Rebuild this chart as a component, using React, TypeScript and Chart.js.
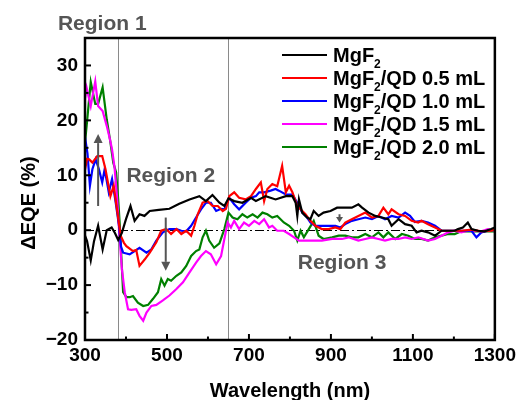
import React, { useEffect, useRef } from "react";
import { Chart, registerables } from "chart.js";

Chart.register(...registerables);

const FONT = "'Liberation Sans', Arial, sans-serif";

// axis ticks
const xTicks = [300, 500, 700, 900, 1100, 1300];
const xMinorTicks = [400, 600, 800, 1000, 1200];
const yTicks = [-20, -10, 0, 10, 20, 30];
const yMinorTicks = [-15, -5, 5, 15, 25];
const regionBounds = [380, 650];

// MgF2
const blackWl = [
  300, 305, 314, 322, 332, 343, 353, 365, 373, 381,
  390, 400, 411, 421, 433, 445, 458, 480, 506, 530,
  555, 579, 595, 611, 628, 640, 650, 664, 684, 705,
  717, 741, 765, 790, 806, 814, 818, 822, 830, 842,
  850, 858, 870, 882, 899, 915, 935, 951, 967, 976,
  992, 1008, 1024, 1040, 1048, 1065, 1081, 1097, 1109, 1121,
  1137, 1154, 1170, 1186, 1202, 1210, 1222, 1234, 1243, 1259,
  1275, 1291, 1300,
];
const blackVal = [
  -1, -2, -5.5, -2, 0.8, -3.5, 0, 0.5, -0.5, -1.8,
  -0.5, 2, 4.4, 1.7, 2.9, 2.6, 3.5, 3.7, 3.9, 4.8,
  5.6, 6.2, 5.3, 6.4, 5.0, 4.4, 5.8, 5.3, 5.0, 5.9,
  5.3, 6.2, 5.6, 6.2, 6.2, 5.0, 2.6, 5.6, 3.2, 2.3,
  2.0, 3.5, 2.6, 3.2, 3.5, 4.1, 4.1, 4.1, 4.7, 4.1,
  3.2, 2.6, 2.3, 2.0, 0.8, 2.0, 1.1, 0.8, -0.4, -0.1,
  -0.4, -1.0, -0.1, -0.1, -0.1, 0.2, 0.5, 1.4, 0.2, -0.1,
  -0.2, 0.2, 0.5,
];

// MgF2/QD 0.5 mL
const redWl = [
  300, 305, 310, 318, 330, 342, 350, 362, 370, 378,
  387, 395, 401, 417, 425, 433, 446, 458, 474, 486,
  498, 510, 523, 535, 547, 559, 567, 575, 587, 599,
  611, 624, 636, 644, 652, 664, 676, 692, 705, 717,
  729, 737, 745, 757, 769, 781, 790, 798, 806, 818,
  826, 838, 850, 862, 878, 894, 911, 923, 935, 951,
  967, 984, 1000, 1016, 1028, 1040, 1048, 1065, 1081, 1097,
  1113, 1121, 1137, 1154, 1170, 1194, 1218, 1243, 1267, 1291,
  1300,
];
const redVal = [
  11, 13, 12.9, 12.3, 13.5, 13.5, 11.1, 6.2, 8.1, 3.8,
  -1.0, -2.3, -2.9, -3.8, -3.6, -6.5, -5.3, -4.1, -2.2, -0.1,
  0.2, -0.7, 0.2, -0.7, -0.1, -1.0, 0.8, 2.9, 5.0, 5.3,
  4.4, 4.4, 3.5, 3.9, 6.2, 6.9, 5.9, 5.6, 6.2, 7.5,
  8.7, 5.3, 7.5, 8.4, 8.0, 11.7, 6.9, 8.1, 6.9, 4.4,
  3.8, 2.9, 1.7, 0.8, 0.2, 0.2, 0.5, 0.2, 1.4, 2.0,
  2.6, 3.2, 2.3, 2.6, 4.1, 2.9, 3.8, 2.9, 2.6, 1.7,
  1.4, 1.7, 1.1, 0.5, -0.1, -0.1, -0.1, 0.1, -0.2, -0.1,
  0.2,
];

// MgF2/QD 1.0 mL
const blueWl = [
  300, 306, 312, 318, 326, 334, 342, 348, 358, 366,
  375, 383, 388, 393, 409, 421, 433, 450, 462, 474,
  490, 506, 523, 535, 547, 559, 571, 583, 595, 607,
  620, 632, 640, 652, 664, 676, 692, 705, 717, 725,
  737, 753, 765, 773, 790, 806, 818, 830, 842, 850,
  862, 878, 894, 911, 923, 935, 951, 967, 984, 1000,
  1016, 1032, 1048, 1065, 1081, 1093, 1105, 1121, 1137, 1154,
  1170, 1194, 1218, 1243, 1255, 1267, 1283, 1300,
];
const blueVal = [
  17, 14, 8.1, 11.1, 12.9, 11.1, 8.7, 11.1, 6.9, 9.3,
  5.0, 0.8, -3, -4.1, -4.4, -3.8, -3.2, -4.1, -3.5, -1.9,
  -0.4, 0.2, 0.2, -0.1, -0.2, 0.8, 2.3, 3.8, 5.0, 5.0,
  3.5, 3.9, 3.8, 5.9, 4.7, 3.8, 5.0, 5.9, 6.2, 6.9,
  6.9, 7.2, 7.5, 7.2, 6.5, 6.5, 5.0, 3.2, 2.3, 1.4,
  0.8, 0.8, 0.8, 0.8, 0.5, 1.1, 1.7, 2.0, 2.3, 2.0,
  2.6, 2.0, 2.6, 2.3, 3.2, 2.6, 1.5, 1.7, 1.4, 0.8,
  -0.1, -0.1, -0.1, -0.1, -1.3, -0.4, -0.1, 0.2,
];

// MgF2/QD 1.5 mL
const magentaWl = [
  300, 304, 314, 325, 332, 343, 353, 361, 366, 372,
  378, 383, 390, 397, 405, 413, 425, 433, 442, 450,
  462, 474, 490, 506, 523, 539, 555, 571, 583, 595,
  607, 620, 632, 640, 648, 656, 664, 676, 688, 700,
  713, 725, 737, 749, 757, 769, 785, 798, 810, 822,
  838, 854, 878, 903, 927, 943, 967, 984, 1000, 1016,
  1032, 1048, 1065, 1081, 1097, 1113, 1137, 1154, 1170, 1186,
  1202, 1218, 1234, 1251, 1267, 1283, 1300,
];
const magentaVal = [
  24, 25.9, 22.6, 27.1, 22.6, 21.7, 19, 16.5, 14.7, 11.5,
  6.2, 0.2, -7.1, -11.3, -14.4, -14.5, -14.4, -15.6, -16.5, -15,
  -13.8, -13.6, -12.8, -11.9, -10.7, -9.5, -7.7, -5.9, -4.7, -3.8,
  -4.4, -6.2, -4.7, -1.6, 1.4, 0.5, 1.7, 0.2, 1.4, 0.8,
  1.7, 1.1, 2.0, 0.5, 0.8, -0.1, -0.1, -0.7, -1.3, -1.9,
  -1.9, -1.9, -1.9, -1.6, -1.6, -1.3, -1.9, -1.6, -1.3, -1.6,
  -1.9, -1.6, -1.6, -1.3, -1.6, -1.3, -1.9, -1.6, -1.0, -0.4,
  -0.1, -0.4, -0.1, -0.1, -0.2, 0.2, -0.1,
];

// MgF2/QD 2.0 mL
const greenWl = [
  300, 304, 314, 325, 332, 343, 353, 361, 369, 376,
  381, 385, 393, 401, 409, 417, 429, 442, 454, 466,
  478, 486, 494, 502, 510, 523, 535, 547, 559, 571,
  579, 587, 595, 603, 615, 628, 640, 650, 660, 672,
  684, 696, 709, 721, 733, 745, 757, 769, 785, 798,
  810, 818, 826, 834, 846, 858, 870, 882, 903, 919,
  935, 951, 967, 984, 1000, 1016, 1028, 1040, 1057, 1073,
  1089, 1105, 1121, 1137, 1154, 1170, 1186, 1202, 1218, 1243,
  1267, 1300,
];
const greenVal = [
  16, 19, 27, 23, 23, 26, 20.2, 16.5, 12.3, 10.5,
  5.6, 0.8, -11.3, -12.2, -12.2, -12, -13.2, -13.8, -13.6, -12.5,
  -11.3, -8.9, -10.1, -8.9, -9.2, -8.3, -7.7, -6.5, -4.7, -3.8,
  -3.5, -1.3, -0.1, -1.9, -3.2, -2.4, 0.2, 3.2, 2.3, 2.0,
  2.9, 2.3, 2.9, 2.3, 3.2, 2.9, 2.3, 2.6, 1.4, 0.8,
  -0.1, -1.9, -0.1, -1.3, 0.2, 1.7, -1.0, -1.6, -1.3, -1.0,
  -1.0, -1.3, -1.3, -0.7, -1.3, -0.4, -1.3, -0.4, -1.6, -0.7,
  -1.0, -1.6, -1.6, -1.9, -1.3, -1.0, -0.7, -0.7, -0.2, -0.2,
  -0.2, -0.2,
];

const seriesLabels = [
  "MgF₂",
  "MgF₂/QD 0.5 mL",
  "MgF₂/QD 1.0 mL",
  "MgF₂/QD 1.5 mL",
  "MgF₂/QD 2.0 mL",
];
const legendParts = [
  ["MgF", "2", ""],
  ["MgF", "2", "/QD 0.5 mL"],
  ["MgF", "2", "/QD 1.0 mL"],
  ["MgF", "2", "/QD 1.5 mL"],
  ["MgF", "2", "/QD 2.0 mL"],
];
const seriesColors = ["#000000", "#ff0000", "#0000ff", "#ff00ff", "#008000"];

// annotations (data coordinates)
const regionLabels = [
  { text: "Region 1", x: 234, y: 36.4 },
  { text: "Region 2", x: 401, y: 8.7 },
  { text: "Region 3", x: 819, y: -7.1 },
];
const arrows = [
  { x: 332, from: 4.4, to: 17.5, head: 9, width: 9 },
  { x: 497, from: 2.3, to: -7.4, head: 9, width: 9 },
  { x: 921, from: 2.9, to: 1.4, head: 5.5, width: 7 },
];

const zip = (xs: number[], ys: number[]) => xs.map((x, i) => ({ x, y: ys[i] }));

const decorPlugin = {
  id: "decor",
  beforeDatasetsDraw(chart: any) {
    const { ctx, chartArea: a, scales } = chart;
    const x = scales.x;
    const y = scales.y;
    ctx.save();
    ctx.strokeStyle = "#8a8a8a";
    ctx.lineWidth = 1;
    regionBounds.forEach((v) => {
      const px = Math.round(x.getPixelForValue(v)) + 0.5;
      ctx.beginPath();
      ctx.moveTo(px, a.top);
      ctx.lineTo(px, a.bottom);
      ctx.stroke();
    });
    ctx.strokeStyle = "#000";
    ctx.lineWidth = 1.2;
    ctx.setLineDash([9, 3, 2, 3]);
    const py = Math.round(y.getPixelForValue(0)) + 0.5;
    ctx.beginPath();
    ctx.moveTo(a.left, py);
    ctx.lineTo(a.right, py);
    ctx.stroke();
    ctx.restore();
  },
  afterDraw(chart: any) {
    const { ctx, chartArea: a, scales } = chart;
    const x = scales.x;
    const y = scales.y;
    ctx.save();

    // frame
    ctx.strokeStyle = "#000";
    ctx.lineWidth = 2.5;
    ctx.strokeRect(a.left, a.top, a.right - a.left, a.bottom - a.top);

    // inward ticks
    ctx.lineWidth = 2;
    const tick = (px: number, py: number, dx: number, dy: number) => {
      ctx.beginPath();
      ctx.moveTo(px, py);
      ctx.lineTo(px + dx, py + dy);
      ctx.stroke();
    };
    xTicks.forEach((v) => tick(x.getPixelForValue(v), a.bottom, 0, -6));
    xMinorTicks.forEach((v) => tick(x.getPixelForValue(v), a.bottom, 0, -3.5));
    yTicks.forEach((v) => tick(a.left, y.getPixelForValue(v), 6, 0));
    yMinorTicks.forEach((v) => tick(a.left, y.getPixelForValue(v), 3.5, 0));

    // arrows
    ctx.strokeStyle = "#555555";
    ctx.fillStyle = "#555555";
    ctx.lineWidth = 2;
    arrows.forEach((ar) => {
      const px = x.getPixelForValue(ar.x);
      const p1 = y.getPixelForValue(ar.from);
      const p2 = y.getPixelForValue(ar.to);
      const dir = p2 > p1 ? 1 : -1;
      const base = p2 - dir * ar.head;
      ctx.beginPath();
      ctx.moveTo(px, p1);
      ctx.lineTo(px, base);
      ctx.stroke();
      ctx.beginPath();
      ctx.moveTo(px, p2);
      ctx.lineTo(px - ar.width / 2, base);
      ctx.lineTo(px + ar.width / 2, base);
      ctx.closePath();
      ctx.fill();
    });

    // region labels
    ctx.fillStyle = "#555555";
    ctx.font = `bold 21px ${FONT}`;
    ctx.textAlign = "left";
    ctx.textBaseline = "alphabetic";
    regionLabels.forEach((r) => {
      ctx.fillText(r.text, x.getPixelForValue(r.x), y.getPixelForValue(r.y));
    });

    // legend
    const lx0 = 282;
    const lx1 = 327;
    const tx = 333;
    const rowY = 55;
    const rowStep = 23;
    legendParts.forEach((parts, i) => {
      const cy = rowY + i * rowStep;
      ctx.strokeStyle = seriesColors[i];
      ctx.lineWidth = 2;
      ctx.beginPath();
      ctx.moveTo(lx0, cy);
      ctx.lineTo(lx1, cy);
      ctx.stroke();
      ctx.fillStyle = "#000";
      ctx.font = `bold 20px ${FONT}`;
      const base = cy + 7;
      ctx.fillText(parts[0], tx, base);
      let cx = tx + ctx.measureText(parts[0]).width;
      ctx.font = `bold 12px ${FONT}`;
      ctx.fillText(parts[1], cx, base + 6);
      cx += ctx.measureText(parts[1]).width;
      ctx.font = `bold 20px ${FONT}`;
      ctx.fillText(parts[2], cx, base);
    });

    // axis titles
    ctx.fillStyle = "#000";
    ctx.font = `bold 20px ${FONT}`;
    ctx.textAlign = "center";
    ctx.fillText("Wavelength (nm)", (a.left + a.right) / 2, 397);
    ctx.save();
    ctx.translate(29, 203);
    ctx.rotate(-Math.PI / 2);
    ctx.textBaseline = "middle";
    ctx.fillText("ΔEQE (%)", 0, 0);
    ctx.restore();

    ctx.restore();
  },
};

export default function App() {
  const canvasRef = useRef<HTMLCanvasElement | null>(null);

  useEffect(() => {
    if (!canvasRef.current) return;
    const wls = [blackWl, redWl, blueWl, magentaWl, greenWl];
    const vals = [blackVal, redVal, blueVal, magentaVal, greenVal];
    const datasets = seriesLabels.map((label, i) => ({
      label,
      data: zip(wls[i], vals[i]),
      borderColor: seriesColors[i],
      backgroundColor: seriesColors[i],
      borderWidth: 2.2,
      pointRadius: 0,
      tension: 0,
      fill: false,
    }));
    const chart = new Chart(canvasRef.current, {
      type: "line",
      data: { datasets },
      options: {
        animation: false,
        responsive: true,
        maintainAspectRatio: false,
        layout: { padding: { top: 38, right: 23, left: 0, bottom: 0 } },
        plugins: { legend: { display: false }, tooltip: { enabled: false } },
        scales: {
          x: {
            type: "linear",
            min: 300,
            max: 1300,
            afterBuildTicks: (s: any) => {
              s.ticks = xTicks.map((v) => ({ value: v }));
            },
            afterFit: (s: any) => {
              s.height = 60;
            },
            grid: { display: false, drawTicks: false },
            border: { display: false },
            ticks: {
              color: "#000",
              padding: 4,
              maxRotation: 0,
              autoSkip: false,
              font: { family: FONT, size: 19, weight: "bold" },
              callback: (v: any) => String(v),
            },
          },
          y: {
            type: "linear",
            min: -20,
            max: 35,
            afterBuildTicks: (s: any) => {
              s.ticks = yTicks.map((v) => ({ value: v }));
            },
            afterFit: (s: any) => {
              s.width = 85;
            },
            grid: { display: false, drawTicks: false },
            border: { display: false },
            ticks: {
              color: "#000",
              padding: 7,
              autoSkip: false,
              font: { family: FONT, size: 19, weight: "bold" },
              callback: (v: any) => (v < 0 ? "−" + Math.abs(v) : String(v)),
            },
          },
        },
      },
      plugins: [decorPlugin],
    });
    return () => chart.destroy();
  }, []);

  return (
    <div style={{ position: "fixed", left: 0, top: 0, width: 520, height: 400, background: "#fff" }}>
      <canvas ref={canvasRef} />
    </div>
  );
}
